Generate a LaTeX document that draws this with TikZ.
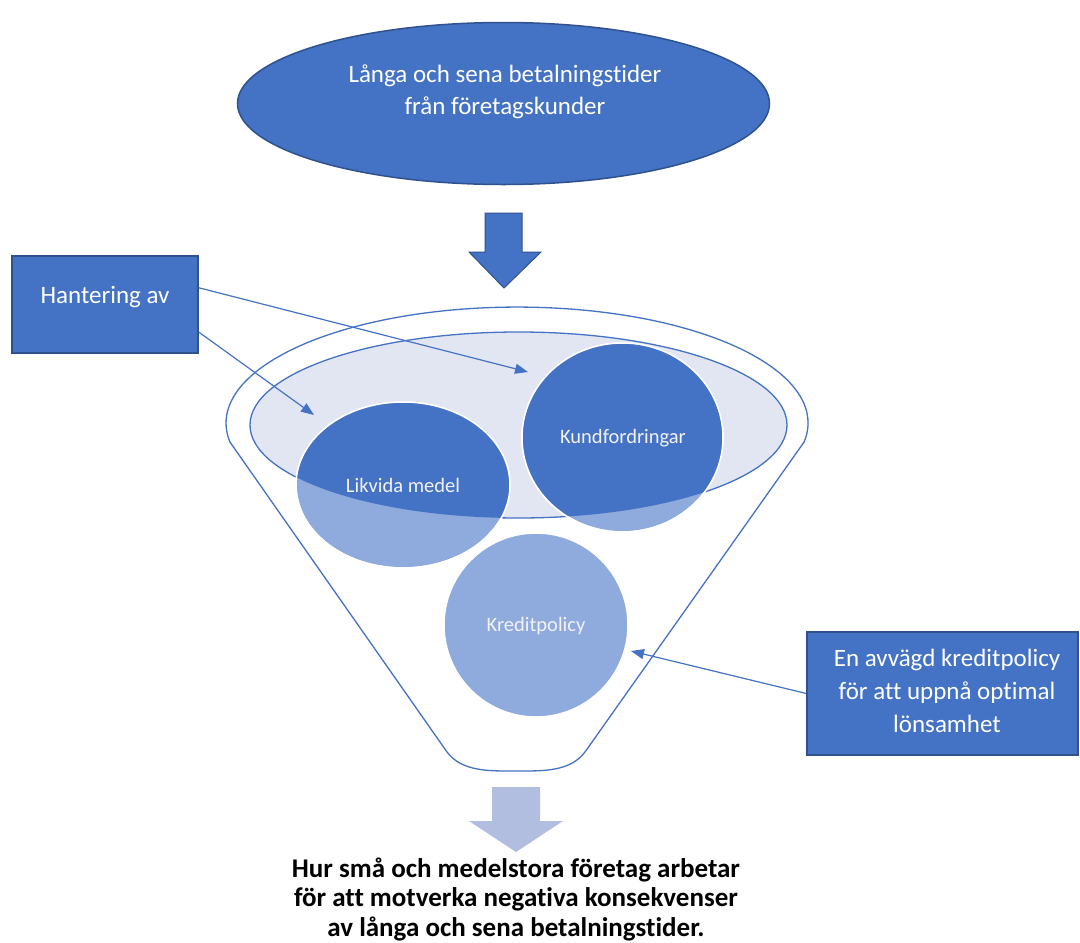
\documentclass[tikz,border=0pt]{standalone}
\usepackage{fontspec}
\setmainfont{Carlito}[RawFeature=-liga]
\usetikzlibrary{shapes.geometric,arrows.meta,calc}
\definecolor{mblue}{HTML}{4472C4}
\definecolor{dblue}{HTML}{2F528F}
\definecolor{lblue}{HTML}{8FAADC}
\definecolor{lav}{HTML}{E2E6F3}
\definecolor{parrow}{HTML}{B1BEE0}
\definecolor{offwhite}{HTML}{F2F2F2}
\tikzset{
  conn/.style={draw=mblue, line width=1.2pt, -{Triangle[length=13pt,width=10pt]}},
  bluebox/.style={rectangle, draw=dblue, line width=1.5pt, fill=mblue, inner sep=0pt},
  wtext/.style={text=white, font=\fontsize{25}{32.5}\selectfont, align=center, inner sep=0pt},
  ctext/.style={text=offwhite, font=\fontsize{20.5}{24}\selectfont, inner sep=0pt},
  bubble/.style={ellipse, inner sep=0pt, fill=lblue, draw=white, line width=1.5pt},
  rim/.style={draw=mblue, line width=1.3pt},
}
\begin{document}
\begin{tikzpicture}[x=1pt,y=-1pt]
\useasboundingbox (0,0) rectangle (1080,943);

% top ellipse
\node[ellipse, draw=dblue, line width=1.5pt, fill=mblue, inner sep=0pt,
      minimum width=532pt, minimum height=162pt] (top) at (503.5,103.5) {};
\node[wtext] (toptext) at (505,92) {Långa och sena betalningstider\\från företagskunder};

% top block arrow
\draw[fill=mblue, draw=dblue, line width=1pt]
  (485,213) -- (522,213) -- (522,252) -- (541,252) -- (504,288) -- (469,252) -- (485,252) -- cycle;

% funnel outline
\draw[rim, fill=white] (804.1,442) arc[start angle=-9.4, end angle=189.4, x radius=291pt, y radius=116pt]
  -- (447,752) .. controls (462,772) and (490,771) .. (516,771)
  .. controls (542,771) and (570,772) .. (585,752) -- cycle;

% inner ellipse
\node[ellipse, rim, fill=lav, inner sep=0pt, minimum width=537pt, minimum height=186pt] (inner) at (518.5,425) {};

% bubbles
\node[bubble, minimum width=214pt, minimum height=166pt] (likv) at (403,485) {};
\node[bubble, minimum width=201pt, minimum height=189pt] (kund) at (622.5,437.5) {};
\node[bubble, minimum width=184pt, minimum height=184pt] (kred) at (536,625) {};
\begin{scope}
  \clip (inner.center) ellipse [x radius=268.5pt, y radius=93pt];
  \fill[mblue] (likv.center) ellipse [x radius=107pt, y radius=83pt];
  \fill[mblue] (kund.center) ellipse [x radius=100.5pt, y radius=94.5pt];
\end{scope}
\draw[white, line width=1.5pt] (likv.center) ellipse [x radius=107pt, y radius=83pt];
\draw[white, line width=1.5pt] (kund.center) ellipse [x radius=100.5pt, y radius=94.5pt];
\node[ctext] (likvtext) at (403,485) {Likvida medel};
\node[ctext] (kundtext) at (623,438) {Kundfordringar};
\node[ctext] (kredtext) at (536,626) {Kreditpolicy};

% boxes
\node[bluebox, minimum width=186pt, minimum height=97pt] (hant) at (105,304.5) {};
\node[wtext] (hanttext) at (105,297) {Hantering av};
\node[bluebox, minimum width=271pt, minimum height=123pt] (pol) at (942.5,693.5) {};
\node[wtext, font=\fontsize{25}{33}\selectfont] (poltext) at (947,691)
      {En avvägd kreditpolicy\\för att uppnå optimal\\lönsamhet};

% connectors
\coordinate (tipK) at (528,372);
\coordinate (tipL) at (314,415);
\coordinate (tipP) at (631,651);
\draw[conn] ($(hant.north east)!0.33!(hant.south east)$) -- (tipK);
\draw[conn] ($(hant.north east)!0.78!(hant.south east)$) -- (tipL);
\draw[conn] (pol.west) -- (tipP);

% bottom block arrow
\fill[parrow] (492,787) -- (540,787) -- (540,821) -- (563,821) -- (516,852) -- (469,821) -- (492,821) -- cycle;

% bottom text
\node[align=center, inner sep=0pt, font=\bfseries\fontsize{27}{29.5}\selectfont] (result) at (516,899)
  {Hur små och medelstora företag arbetar\\för att motverka negativa konsekvenser\\av långa och sena betalningstider.};
\end{tikzpicture}
\end{document}
